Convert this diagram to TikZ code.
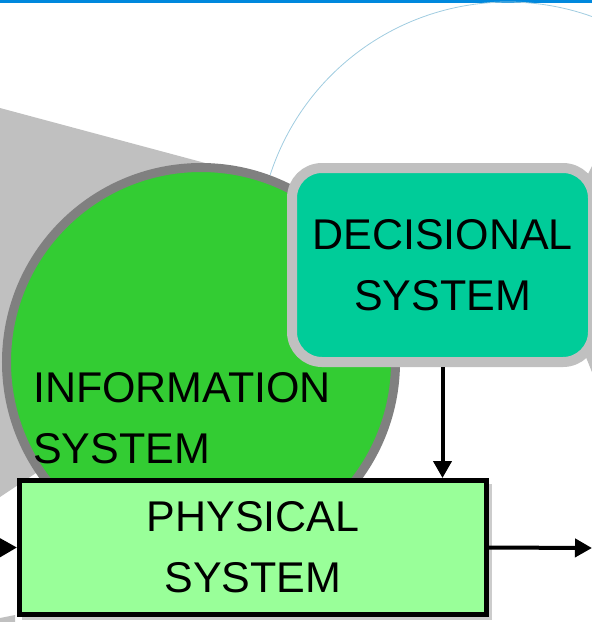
\documentclass[tikz,border=0pt]{standalone}
\usepackage{fontspec}
\setmainfont{Liberation Sans}
\usetikzlibrary{arrows.meta}
\definecolor{infogreen}{HTML}{33CC33}
\definecolor{decteal}{HTML}{00CC99}
\definecolor{physgreen}{HTML}{99FF99}
\definecolor{ringgray}{HTML}{808080}
\definecolor{framegray}{HTML}{C0C0C0}
\definecolor{topblue}{HTML}{0088DD}
\definecolor{arcblue}{HTML}{A0CCE0}

\begin{document}
\begin{tikzpicture}[x=1pt,y=-1pt,>={Triangle[length=17pt,width=18pt]},
  every node/.style={font=\fontsize{43}{61}\selectfont,inner sep=0pt},
  sysbox/.style={align=center,minimum width=#1},
  flow/.style={->,line width=4pt}]
\useasboundingbox (0,0) rectangle (592,622);
\begin{scope}
\clip (0,0) rectangle (592,622);
% background: rule, thin arc and the grey cones
\fill[topblue] (0,0) rectangle (592,3);
\draw[arcblue,line width=.8pt] (508,252) ++(198:250) arc[start angle=198,end angle=300,radius=250];
\fill[framegray] (0,108)--(250,175)--(120,417)--(0,497)--cycle;
\fill[framegray] (575,200)--(600,150)--(600,392)--(575,330)--cycle;
\fill[framegray] (0,618)--(15,615)--(15,622)--(0,622)--cycle;
% information system
\node[circle,draw=ringgray,line width=9pt,fill=infogreen,minimum size=389pt] (info) at (201,362) {};
\node[align=left] (infotext) at (182,418) {INFORMATION\\SYSTEM};
% decisional system
\node[sysbox=301pt,draw=framegray,line width=10pt,fill=decteal,rounded corners=30pt,minimum height=194pt] (dec) at (442.5,265) {DECISIONAL\\SYSTEM};
% physical system
\fill[black!20] (22,484) rectangle (492,620);
\node[sysbox=467pt,draw=black,line width=5pt,fill=physgreen,minimum height=134pt] (phys) at (253,547.5) {PHYSICAL\\SYSTEM};
\coordinate (in) at (-30,548);
\coordinate (out) at (592,548);
\draw[flow] (in) -- (phys.west);
\draw[flow] (phys.east) -- (out);
\draw[flow] (dec.south) -- (dec.south |- phys.north);
\end{scope}
\end{tikzpicture}
\end{document}
